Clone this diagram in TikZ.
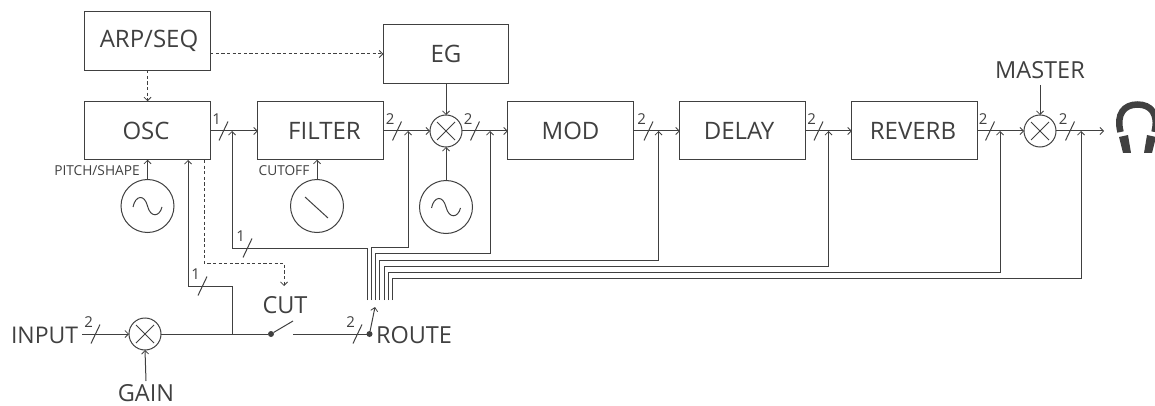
\documentclass[tikz,border=0pt]{standalone}
\usepackage{fontspec}
\setmainfont{Open Sans}
\usetikzlibrary{arrows.meta,calc}
\definecolor{ink}{HTML}{404040}
\tikzset{
  x=1pt,y=-1pt,
  every node/.style={text=ink,inner sep=0pt,outer sep=0pt},
  block/.style={draw=ink,line width=1pt,minimum width=125.5pt,minimum height=58.5pt,font=\fontsize{24}{24}\selectfont},
  mixer/.style={draw=ink,line width=1pt,circle,minimum size=32pt},
  gen/.style={draw=ink,line width=1pt,circle,minimum size=53pt},
  conn/.style={draw=ink,line width=1pt,-{Straight Barb[length=3.5pt,width=7pt,line width=.8pt]}},
  wire/.style={draw=ink,line width=1pt},
  dashconn/.style={conn,dash pattern=on 3.2pt off 2.4pt},
  tick/.style={draw=ink,line width=1pt},
  biglabel/.style={font=\fontsize{23.5}{24}\selectfont},
  smalllabel/.style={font=\fontsize{13.7}{14}\selectfont},
  numlabel/.style={font=\fontsize{15}{15}\selectfont},
  swdot/.style={circle,fill=ink,minimum size=6pt},
}
\newcommand{\bustick}[3]{%
  \draw[tick] ($(#1,#2)+(-4.5,9.5)$) -- ($(#1,#2)+(4.5,-9.5)$);
  \node[numlabel] at ($(#1,#2)+(-6.8,-12)$) {#3};
}
\newcommand{\sinewave}[1]{%
  \draw[draw=ink,line width=1pt] ($(#1)+(-14.5,1)$) .. controls ($(#1)+(-12,-11)$) and ($(#1)+(-3,-12)$) .. ($(#1)+(0,0)$) .. controls ($(#1)+(3,12)$) and ($(#1)+(12,11)$) .. ($(#1)+(14.5,1)$);
}
\newcommand{\crossing}[1]{%
  \draw[tick] ($(#1)+(-9,-9)$) -- ($(#1)+(9,9)$) ($(#1)+(-9,9)$) -- ($(#1)+(9,-9)$);
}
\begin{document}
\begin{tikzpicture}
\useasboundingbox (0,0) rectangle (1155,406);
% blocks
\node[block] (arp) at (147.5,41) {\kern3pt ARP/SEQ};
\node[block] (osc) at (147.5,130.5) {OSC\kern3pt};
\node[block] (filter) at (320.5,130.5) {\kern8pt FILTER};
\node[block] (eg) at (446,54) {EG};
\node[block] (mod) at (570.5,130.5) {MOD};
\node[block] (delay) at (742.5,130.5) {DELAY\kern7pt};
\node[block] (reverb) at (914.5,130.5) {REVERB\kern3pt};
% mixers
\node[mixer] (mixa) at (446,131) {};
\node[mixer] (mixb) at (1040,131) {};
\node[mixer] (mixc) at (145,334) {};
\crossing{mixa}\crossing{mixb}\crossing{mixc}
% generators
\node[gen] (lfoa) at (147.5,206) {};
\node[gen] (knob) at (317,206) {};
\node[gen] (lfob) at (446,207) {};
\sinewave{lfoa}\sinewave{lfob}
\draw[tick] (305,197) -- (328,218);
% labels
\node[biglabel] (master) at (1040,70) {MASTER};
\node[biglabel] (gain) at (146,393.5) {GAIN};
\node[biglabel,anchor=west,font=\fontsize{23}{24}\selectfont] (input) at (11,335) {INPUT};
\node[biglabel] (cut) at (285,305) {CUT};
\node[biglabel,anchor=west] (route) at (376,335) {ROUTE};
\node[smalllabel] (pitch) at (97,171) {PITCH/SHAPE};
\node[smalllabel] (cutoff) at (284,171) {CUTOFF};
% switches
\node[swdot] (cutdot) at (271,334) {};
\node[swdot] (routedot) at (369.5,334) {};
\coordinate (cutend) at (293,321);
\coordinate (routein) at (293,334);
\coordinate (routeend) at (375,307);
% main signal path
\coordinate (inputstart) at (82,334);
\coordinate (phones) at (1104,131);
\draw[conn] (osc.east |- 0,131) -- (filter.west |- 0,131);
\draw[conn] (filter.east |- 0,131) -- (mixa.west);
\draw[conn] (mixa.east) -- (mod.west |- 0,131);
\draw[conn] (mod.east |- 0,131) -- (delay.west |- 0,131);
\draw[conn] (delay.east |- 0,131) -- (reverb.west |- 0,131);
\draw[conn] (reverb.east |- 0,131) -- (mixb.west);
\draw[conn] (mixb.east) -- (phones);
\draw[conn] (inputstart) -- (mixc.west);
\draw[wire] (mixc.east) -- (cutdot);
\draw[wire] (cutdot) -- (cutend);
\draw[wire] (routein) -- (routedot);
\draw[conn] (routedot) -- (routeend);
% modulation
\draw[conn] (master.south |- 0,85) -- (mixb.north);
\draw[conn] (gain.north |- 0,381) -- (mixc.south);
\draw[conn] (eg.south) -- (mixa.north);
\draw[conn] (lfob.north) -- (mixa.south);
\draw[conn] (lfoa.north) -- (lfoa.north |- osc.south);
\draw[conn] (knob.north) -- (knob.north |- filter.south);
% dashed
\draw[dashconn] (arp.south) -- (osc.north);
\draw[dashconn] (arp.east |- 0,54) -- (eg.west |- 0,54);
\coordinate (cutgate) at (284,286);
\draw[dashconn] (204,160) -- (204,263) -| (cutgate);
% input to osc
\coordinate (tap) at (232,334);
\draw[conn] (tap) -- (232,286) -- (188,286) -- (188,160);
% route bus
\coordinate (ra) at (367,300);
\coordinate (rb) at (371,300);
\coordinate (rc) at (375,300);
\coordinate (rd) at (379.5,300);
\coordinate (re) at (384,300);
\coordinate (rf) at (388,300);
\coordinate (rg) at (392,300);
\draw[conn] (ra) -- (367,248) -| (232,131);
\draw[conn] (rb) -- (371,247.5) -| (408,131);
\draw[conn] (rc) -- (375,253.5) -| (490,131);
\draw[conn] (rd) -- (379.5,260) -| (658.5,131);
\draw[conn] (re) -- (384,266) -| (828.5,131);
\draw[conn] (rf) -- (388,272) -| (1000,131);
\draw[conn] (rg) -- (392,278) -| (1081,131);
% ticks
\bustick{223.5}{131}{1}
\bustick{397}{131}{2}
\bustick{475}{131}{2}
\bustick{648.5}{131}{2}
\bustick{818.5}{131}{2}
\bustick{990}{131}{2}
\bustick{1070}{131}{2}
\bustick{247.5}{248}{1}
\bustick{202.5}{286}{1}
\bustick{95.5}{334}{2}
\bustick{357.5}{334}{2}
% headphones
\draw[draw=ink,line width=6.5pt] (1120.5,132) .. controls (1116,114) and (1124,104.5) .. (1137.5,104.5) .. controls (1151,104.5) and (1159,114) .. (1154.5,132);
\fill[ink] (1119,137) -- (1128,135) -- (1131,153) -- (1123,153) -- cycle;
\fill[ink] (1156,137) -- (1147,135) -- (1144,153) -- (1152,153) -- cycle;
\end{tikzpicture}
\end{document}
